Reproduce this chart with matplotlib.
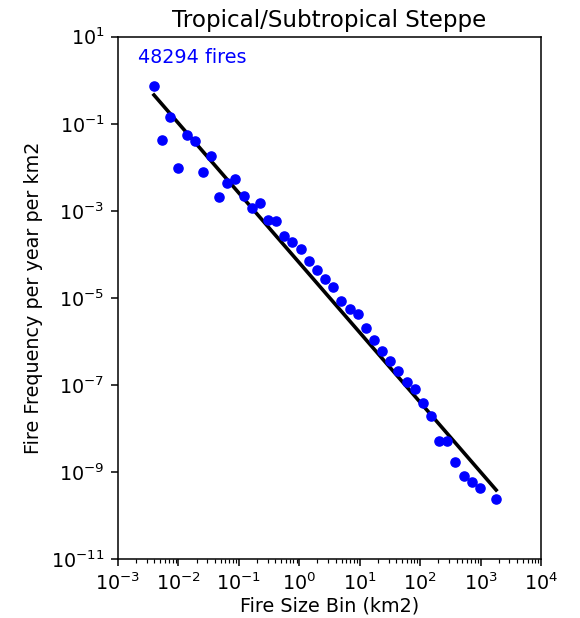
import matplotlib
matplotlib.use("Agg")
import matplotlib.pyplot as plt
from matplotlib.ticker import FixedLocator, NullLocator, LogFormatterMathtext

# Data
fire_size_bin = [0.00394, 0.00538, 0.00734, 0.0100, 0.01365, 0.01862, 0.0254, 0.0347,
                 0.0473, 0.0645, 0.0879, 0.120, 0.1636, 0.223, 0.304, 0.415, 0.566,
                 0.772, 1.053, 1.436, 1.959, 2.672, 3.645, 4.97, 6.78, 9.25, 12.6,
                 17.2, 23.5, 32.0, 43.6, 59.6, 81.3, 110.8, 151, 206, 281, 384, 523,
                 713, 973, 1811]
fire_freq = [0.75, 0.042, 0.143, 0.0095, 0.056, 0.040, 0.0078, 0.0179, 0.00205,
             0.00444, 0.0054, 0.00223, 0.00115, 0.00154, 6.2e-4, 5.96e-4, 2.61e-4,
             1.90e-4, 1.31e-4, 6.97e-5, 4.33e-5, 2.77e-5, 1.79e-5, 8.67e-6, 5.68e-6,
             4.22e-6, 2.08e-6, 1.07e-6, 6.17e-7, 3.57e-7, 2.07e-7, 1.18e-7, 8.26e-8,
             3.98e-8, 1.95e-8, 5.2e-9, 5.2e-9, 1.69e-9, 8.2e-10, 6.05e-10, 4.41e-10,
             2.39e-10]
fit_x = [0.00394, 1811]
fit_y = [0.458, 3.9e-10]
y_ticks = [1e1, 1e-1, 1e-3, 1e-5, 1e-7, 1e-9, 1e-11]
n_fires_label = "48294 fires"
title = "Tropical/Subtropical Steppe"

s = 1.38  # overall scale of the reference relative to matplotlib defaults

fig = plt.figure(figsize=(5.8, 6.18), dpi=100)
ax = fig.add_axes([118/580, 1 - 559.3/618, (541-118)/580, (559.3-36.7)/618])

ax.plot(fire_size_bin, fire_freq, 'o', color='blue', markersize=6.6, zorder=3)
ax.plot(fit_x, fit_y, '-', color='black', linewidth=2.6, zorder=2)

ax.set_xscale('log')
ax.set_yscale('log')
ax.set_xlim(1e-3, 1e4)
ax.set_ylim(1e-11, 1e1)
ax.yaxis.set_major_locator(FixedLocator(y_ticks))
ax.yaxis.set_major_formatter(LogFormatterMathtext())
ax.yaxis.set_minor_locator(NullLocator())

for sp in ax.spines.values():
    sp.set_linewidth(0.8 * s)
ax.tick_params(axis='both', which='major', labelsize=10 * s, length=3.5 * s,
               width=0.8 * s, pad=3.5 * s)
ax.tick_params(axis='both', which='minor', length=2 * s, width=0.6 * s)
ax.set_xlabel("Fire Size Bin (km2)", fontsize=10 * s, labelpad=1.5)
ax.set_ylabel("Fire Frequency per year per km2", fontsize=10 * s, labelpad=4 * s)
ax.set_title(title, fontsize=12 * s, pad=7)
ax.text(0.047, 0.961, n_fires_label, transform=ax.transAxes, color='blue',
        fontsize=10 * s, ha='left', va='center')

fig.savefig("out.png", dpi=100)
